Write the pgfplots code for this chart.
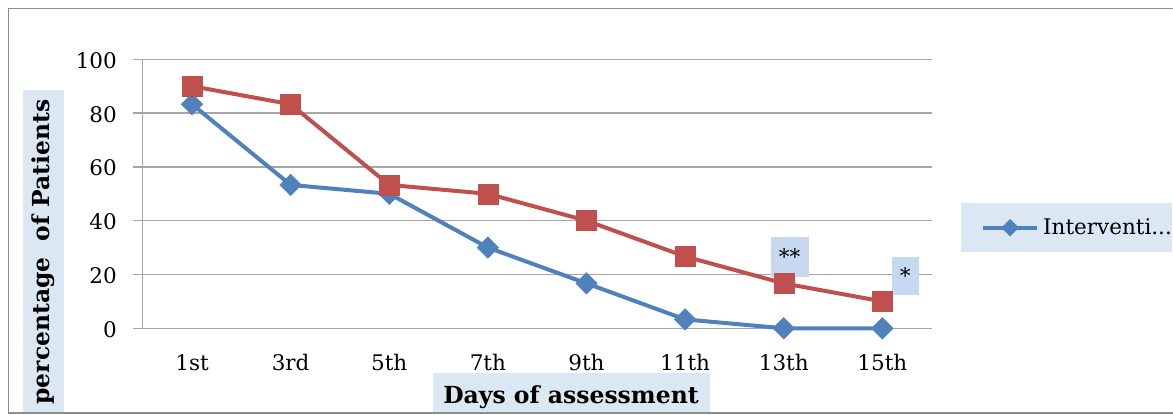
\documentclass[border=0pt]{standalone}
\usepackage{fontspec}
\setmainfont{DejaVu Serif}
\usepackage{pgfplots}
\pgfplotsset{compat=1.18}
\definecolor{blueS}{HTML}{4F81BD}
\definecolor{redS}{HTML}{C0504D}
\definecolor{gridc}{HTML}{A6A6A6}
\definecolor{framec}{HTML}{8C8C8C}
\definecolor{lbl}{HTML}{DCE7F4}
\definecolor{ann}{HTML}{C6D9F1}
\begin{document}
\begin{tikzpicture}[x=1pt,y=1pt]
\useasboundingbox (0,0) rectangle (1173,415);
\fill[lbl] (23,2) rectangle (64,325);
\fill[lbl] (433,2) rectangle (710,42);
\draw[framec, line width=1.5pt] (1180,2) -- (8.5,2) -- (8.5,406.5) -- (1180,406.5);
\node[rotate=90, font=\fontsize{23.4}{27}\selectfont\bfseries] at (43.5,163) {percentage\ \ of Patients};
\node[anchor=base, font=\fontsize{23.5}{27}\selectfont\bfseries] at (571,11) {Days of assessment};
\begin{axis}[
  at={(142.7pt,86.7pt)}, anchor=south west, scale only axis,
  width=789pt, height=269pt,
  xmin=-0.5, xmax=7.5, ymin=0, ymax=100,
  xtick={0,1,2,3,4,5,6,7},
  xticklabels={1st,3rd,5th,7th,9th,11th,13th,15th},
  ytick={0,20,40,60,80,100},
  axis x line*=bottom, axis y line*=left,
  axis line style={draw=gridc, line width=1.3pt, -},
  ymajorgrids, grid style={draw=gridc, line width=1.3pt},
  tick align=outside, major tick length=10pt,
  xtick style={draw=none}, ytick style={draw=gridc, line width=1.3pt},
  tick label style={font=\fontsize{21.5}{25}\selectfont, inner sep=0pt},
  /pgf/number format/assume math mode=true,
  yticklabel style={anchor=base east, xshift=-15.7pt, yshift=-9pt},
  xticklabel style={anchor=base, yshift=-32.4pt},
  clip=false,
  legend style={at={(1.0371,0.4658)}, anchor=north west, fill=lbl, draw=none,
    inner sep=0pt, font=\fontsize{21.5}{25}\selectfont,
    nodes={inner sep=0pt}, column sep=4pt},
  legend image code/.code={
    \path[draw=none, fill=none] (-22pt,-24.5pt) rectangle (54pt,24.5pt);
    \draw[#1, line width=4pt] (0pt,0pt) -- (54pt,0pt);
    \path[#1] plot[mark=square*, mark size=4.2pt, mark options={rotate=45, solid}] coordinates {(27pt,0pt)};
  },
]
\addplot[blueS, line width=4pt, mark=square*, mark size=7.6pt,
  mark options={rotate=45, fill=blueS, draw=blueS, line width=0.5pt}]
  coordinates {(0,83.3) (1,53.3) (2,50) (3,30) (4,16.7) (5,3.3) (6,0) (7,0)};
\addlegendentry{Interventi...}
\addplot[redS, line width=4pt, mark=square*, mark size=10pt,
  mark options={fill=redS, draw=redS, line width=0.5pt}, forget plot]
  coordinates {(0,90) (1,83.3) (2,53.3) (3,50) (4,40) (5,26.7) (6,16.7) (7,10)};
\node[fill=ann, minimum width=38pt, minimum height=40pt, inner sep=0pt,
  font=\fontsize{21.5}{25}\selectfont] at (axis cs:6.06,26.6) {**};
\node[fill=ann, minimum width=27pt, minimum height=38pt, inner sep=0pt,
  font=\fontsize{21.5}{25}\selectfont] at (axis cs:7.232,19.6) {*};
\end{axis}
\end{tikzpicture}
\end{document}
